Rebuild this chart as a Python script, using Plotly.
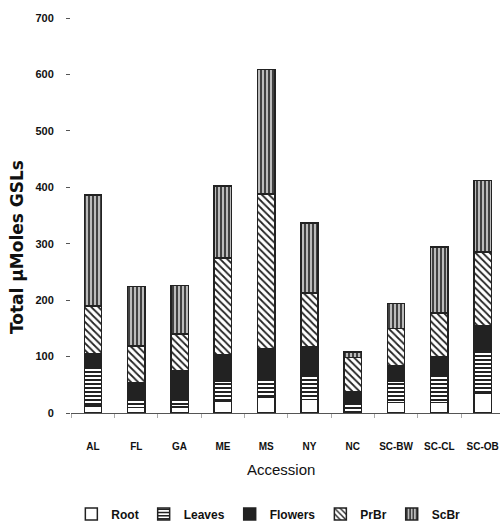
import plotly.graph_objects as go

accessions = ["AL", "FL", "GA", "ME", "MS", "NY", "NC", "SC-BW", "SC-CL", "SC-OB"]
root    = [12, 10, 11, 20, 28, 24, 3, 19, 19, 35]
leaves  = [68, 14, 13, 36, 34, 45, 16, 37, 48, 77]
flowers = [25, 29, 51, 47, 52, 49, 19, 28, 32, 42]
prbr    = [85, 66, 65, 172, 274, 95, 60, 66, 78, 131]
scbr    = [196, 105, 86, 127, 221, 124, 10, 44, 117, 127]
y_ticks = [0, 100, 200, 300, 400, 500, 600, 700]

narrow = "Liberation Sans Narrow, Arial Narrow, Liberation Sans, Arial, sans-serif"
line = dict(color="#222222", width=1.5)

series = [
    ("Root", root, dict(color="white", line=line)),
    ("Leaves", leaves, dict(color="white", line=line,
                            pattern=dict(shape="-", fgcolor="#222222", bgcolor="white",
                                         size=4, solidity=0.5, fillmode="replace"))),
    ("Flowers", flowers, dict(color="#222222", line=line)),
    ("PrBr", prbr, dict(color="white", line=line,
                        pattern=dict(shape="\\", fgcolor="#222222", bgcolor="white",
                                     size=5, solidity=0.35, fillmode="replace"))),
    ("ScBr", scbr, dict(color="#aaaaaa", line=line,
                        pattern=dict(shape="|", fgcolor="#222222", bgcolor="#bbbbbb",
                                     size=4, solidity=0.4, fillmode="replace"))),
]

fig = go.Figure()
for name, vals, marker in series:
    fig.add_trace(go.Bar(name=name, x=accessions, y=vals, marker=marker))

fig.update_layout(
    width=500, height=524,
    barmode="stack", bargap=0.6,
    plot_bgcolor="white", paper_bgcolor="white",
    margin=dict(l=71, r=0, t=18, b=111, autoexpand=False),
    showlegend=True,
    legend=dict(orientation="h", x=0.46, xanchor="center", y=-0.256, yanchor="middle",
                font=dict(family=narrow, size=12, color="#111111", weight="bold"),
                itemwidth=30, tracegroupgap=0, traceorder="normal"),
    annotations=[
        dict(text="Accession", xref="paper", yref="paper",
             x=0.49, y=-0.144, xanchor="center", yanchor="middle",
             showarrow=False,
             font=dict(family="Liberation Sans, Arial, sans-serif", size=15, color="#111111")),
        dict(text="Total μMoles GSLs", xref="paper", yref="paper",
             x=-0.126, y=0.42, xanchor="center", yanchor="middle", textangle=-90,
             showarrow=False,
             font=dict(family="DejaVu Sans, sans-serif", size=17, color="#111111", weight="bold")),
    ],
)

fig.update_xaxes(
    range=[-0.508, 9.4], automargin=False,
    showline=True, linecolor="#555555", linewidth=1,
    ticks="outside", tickson="boundaries", ticklen=4, tickcolor="#aaaaaa",
    ticklabelstandoff=24, tickangle=0,
    tickfont=dict(family=narrow, size=10, color="#111111", weight="bold"),
    showgrid=False, zeroline=False,
)
fig.update_yaxes(
    range=[0, 700], tickvals=y_ticks, automargin=False,
    showline=False, showgrid=False, zeroline=False,
    ticks="outside", ticklen=4, tickcolor="#555555",
    ticklabelstandoff=10,
    tickfont=dict(family=narrow, size=11, color="#111111", weight="bold"),
)

# remove the page's default body margin so the 500x524 figure fills the window
fig.write_html("out.html",
               config={"displayModeBar": False},
               post_script="document.body.style.margin='0';document.body.style.overflow='hidden';")
